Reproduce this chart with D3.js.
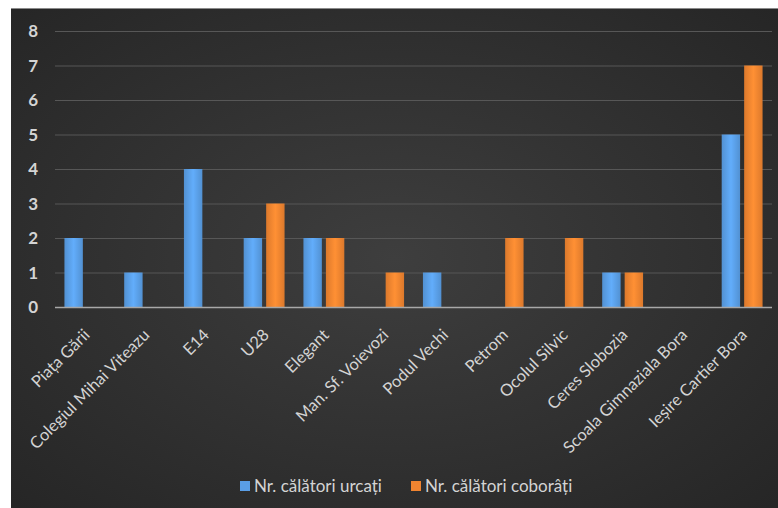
<!DOCTYPE html>
<html><head><meta charset="utf-8">
<script src="https://cdn.jsdelivr.net/npm/d3@7"></script>
<style>html,body{margin:0;padding:0;background:#fff;overflow:hidden;}svg{display:block;}</style>
</head><body>
<svg id="c" width="778" height="508"></svg>
<script>
const categories = ["Piața Gării","Colegiul Mihai Viteazu","E14","U28","Elegant","Man. Sf. Voievozi","Podul Vechi","Petrom","Ocolul Silvic","Ceres Slobozia","Scoala Gimnaziala Bora","Ieșire Cartier Bora"];
const urcati = [2,1,4,2,2,0,1,0,0,1,0,5];
const coborati = [0,0,0,3,2,1,0,2,2,1,0,7];
const seriesNames = ["Nr. călători urcați","Nr. călători coborâți"];
const seriesColors = ["#5a9ee6","#f08430"];
const yTicks = [0,1,2,3,4,5,6,7,8];

const svg = d3.select("#c");
const defs = svg.append("defs");
const bg = defs.append("radialGradient").attr("id","bg").attr("cx","50%").attr("cy","50%").attr("r","70%");
bg.append("stop").attr("offset","0%").attr("stop-color","#3e3e3e");
bg.append("stop").attr("offset","100%").attr("stop-color","#262626");
seriesColors.forEach((c,i)=>{
  const g = defs.append("linearGradient").attr("id","bar"+i).attr("x1","0").attr("x2","1").attr("y1","0").attr("y2","0");
  const base = d3.color(c);
  g.append("stop").attr("offset","0%").attr("stop-color",base.darker(0.25));
  g.append("stop").attr("offset","50%").attr("stop-color",base.brighter(0.25));
  g.append("stop").attr("offset","100%").attr("stop-color",base.darker(0.25));
});

svg.append("rect").attr("x",11).attr("y",8).attr("width",767).attr("height",500).attr("fill","url(#bg)");
svg.append("line").attr("x1",11).attr("x2",778).attr("y1",8.5).attr("y2",8.5).attr("stroke","#8a8a8a").attr("stroke-width",1);

const pLeft = 55, pRight = 772, pTop = 31, pBottom = 307;
const x0 = d3.scaleBand().domain(categories).range([pLeft,pRight]).padding(0);
const x1 = d3.scaleBand().domain(seriesNames).range([0,x0.bandwidth()]).paddingInner(0.18).paddingOuter(0.42);
const y = d3.scaleLinear().domain([0,8]).range([pBottom,pTop]);

const font = "Lato, 'Open Sans', sans-serif";

// gridlines
svg.append("g").selectAll("line").data(yTicks.filter(d=>d>0)).join("line")
  .attr("x1",pLeft).attr("x2",pRight).attr("y1",d=>y(d)+0.5).attr("y2",d=>y(d)+0.5)
  .attr("stroke","#575757").attr("stroke-width",1.2);

// y axis labels
const yAxis = d3.axisLeft(y).tickValues(yTicks).tickSize(0).tickPadding(0);
const ya = svg.append("g").attr("transform","translate(38,0)").call(yAxis);
ya.select(".domain").remove();
ya.selectAll("text").attr("font-family",font).attr("font-size",17).attr("font-weight","bold").attr("fill","#d4d4d4").attr("dy","0.35em");

// bars
const data = categories.map((c,i)=>({cat:c, vals:[urcati[i],coborati[i]]}));
const groups = svg.append("g").selectAll("g").data(data).join("g").attr("transform",d=>`translate(${x0(d.cat)},0)`);
groups.selectAll("rect").data(d=>d.vals.map((v,i)=>({v,i})).filter(e=>e.v>0)).join("rect")
  .attr("x",d=>x1(seriesNames[d.i])).attr("width",x1.bandwidth())
  .attr("y",d=>y(d.v)).attr("height",d=>y(0)-y(d.v))
  .attr("fill",d=>`url(#bar${d.i})`);

// x axis line
svg.append("line").attr("x1",pLeft).attr("x2",pRight).attr("y1",pBottom+0.5).attr("y2",pBottom+0.5).attr("stroke","#a8a8a8").attr("stroke-width",1.5);

// x labels
const xAxis = d3.axisBottom(x0).tickSize(0).tickPadding(0);
const xa = svg.append("g").attr("transform",`translate(0,${pBottom})`).call(xAxis);
xa.select(".domain").remove();
xa.selectAll("text")
  .attr("font-family",font).attr("font-size",16.5).attr("fill","#d4d4d4")
  .attr("text-anchor","end").attr("dy",null).attr("y",0)
  .attr("transform","translate(6,29) rotate(-45)");

// legend
const lg = svg.append("g");
const legX = [240,411];
seriesNames.forEach((n,i)=>{
  lg.append("rect").attr("x",legX[i]).attr("y",481).attr("width",10).attr("height",10).attr("fill",seriesColors[i]);
  lg.append("text").attr("x",legX[i]+14).attr("y",486).attr("dy","0.35em")
    .attr("font-family",font).attr("font-size",17).attr("fill","#d4d4d4").text(n);
});
</script>
</body></html>
